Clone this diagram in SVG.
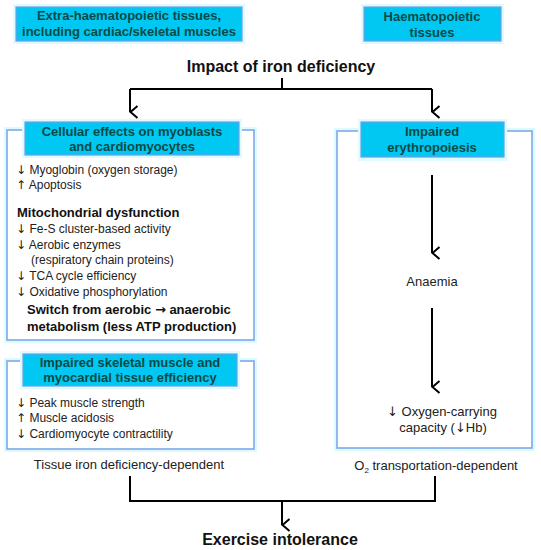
<svg xmlns="http://www.w3.org/2000/svg" width="541" height="550" viewBox="0 0 541 550">
<defs>
<marker id="ah" viewBox="0 0 14 12" refX="7" refY="11" markerWidth="14" markerHeight="12" markerUnits="userSpaceOnUse" orient="auto-start-reverse">
<path d="M1,3.5 L7,10.5 L13,3.5" fill="none" stroke="#000" stroke-width="2"/>
</marker>
<style>
text{font-family:"Liberation Sans",Arial,"DejaVu Sans",sans-serif;}
.ar{font-family:"DejaVu Sans",sans-serif;}
.halo{fill:none;stroke:#DDFAFF;stroke-width:6;}
.panel{fill:#fff;stroke:#7FA8E8;stroke-width:1.6;}
.hhalo{fill:#DFFBFF;stroke:none;}
.hbox{fill:#00C8F2;stroke:#6F9FE8;stroke-width:1.2;}
.ht{font-size:13px;font-weight:bold;fill:#0A4A45;text-anchor:middle;}
.t{font-size:12px;fill:#222;}
.m{font-size:13px;fill:#222;}
.b{font-size:13px;font-weight:bold;fill:#111;}
.big{font-size:16px;font-weight:bold;fill:#111;text-anchor:middle;}
.c{text-anchor:middle;}
.ln{fill:none;stroke:#000;stroke-width:2;}
</style>
</defs>
<rect width="541" height="550" fill="#fff"/>

<g id="hdr-extra">
<rect class="hhalo" x="13" y="4" width="232" height="40"/>
<rect class="hbox" x="16" y="7" width="226" height="34"/>
<text class="ht" x="129" y="20">Extra-haematopoietic tissues,</text>
<text class="ht" x="129" y="36">including cardiac/skeletal muscles</text>
</g>

<g id="hdr-haem">
<rect class="hhalo" x="361" y="4" width="143" height="40"/>
<rect class="hbox" x="364" y="7" width="137" height="34"/>
<text class="ht" x="432" y="21">Haematopoietic</text>
<text class="ht" x="432" y="37">tissues</text>
</g>

<g id="impact">
<text class="big" x="281" y="72">Impact of iron deficiency</text>
</g>

<g id="panel-cellular">
<rect class="halo" x="7" y="130" width="247" height="210"/>
<rect class="panel" x="7" y="130" width="247" height="210"/>
<rect class="hhalo" x="22" y="119" width="220" height="39"/>
<rect class="hbox" x="25" y="122" width="214" height="33"/>
<text class="ht" x="132" y="136">Cellular effects on myoblasts</text>
<text class="ht" x="132" y="151">and cardiomyocytes</text>
<text class="t" x="16" y="174"><tspan class="ar">↓</tspan> Myoglobin  (oxygen storage)</text>
<text class="t" x="16" y="189"><tspan class="ar">↑</tspan> Apoptosis</text>
<text class="b" x="17" y="217">Mitochondrial  dysfunction</text>
<text class="t" x="16" y="233"><tspan class="ar">↓</tspan> Fe-S cluster-based activity</text>
<text class="t" x="16" y="249"><tspan class="ar">↓</tspan> Aerobic enzymes</text>
<text class="t" x="31" y="264">(respiratory chain proteins)</text>
<text class="t" x="16" y="280"><tspan class="ar">↓</tspan> TCA cycle efficiency</text>
<text class="t" x="16" y="296"><tspan class="ar">↓</tspan> Oxidative phosphorylation</text>
<text class="b" x="27" y="314">Switch from aerobic <tspan class="ar">→</tspan> anaerobic</text>
<text class="b" x="27" y="331">metabolism  (less ATP production)</text>
</g>

<g id="panel-efficiency">
<rect class="halo" x="7" y="361" width="247" height="88"/>
<rect class="panel" x="7" y="361" width="247" height="88"/>
<rect class="hhalo" x="20" y="351" width="220" height="38"/>
<rect class="hbox" x="23" y="354" width="214" height="32"/>
<text class="ht" x="130" y="367">Impaired skeletal muscle and</text>
<text class="ht" x="130" y="382">myocardial tissue efficiency</text>
<text class="t" x="16" y="407"><tspan class="ar">↓</tspan> Peak muscle strength</text>
<text class="t" x="16" y="422"><tspan class="ar">↑</tspan> Muscle acidosis</text>
<text class="t" x="16" y="438"><tspan class="ar">↓</tspan> Cardiomyocyte contractility</text>
</g>

<g id="label-tissue">
<text class="m c" x="129" y="469">Tissue iron deficiency-dependent</text>
</g>

<g id="panel-erythro">
<rect class="halo" x="337" y="131" width="195" height="317"/>
<rect class="panel" x="337" y="131" width="195" height="317"/>
<rect class="hhalo" x="358" y="119" width="149" height="42"/>
<rect class="hbox" x="361" y="122" width="143" height="35"/>
<text class="ht" x="432" y="136">Impaired</text>
<text class="ht" x="432" y="152">erythropoiesis</text>
<text class="m c" x="432" y="286">Anaemia</text>
<text class="m c" x="442" y="416"><tspan class="ar">↓</tspan> Oxygen-carrying</text>
<text class="m c" x="443" y="432">capacity (<tspan class="ar">↓</tspan>Hb)</text>
</g>

<g id="label-o2">
<text class="m c" x="436" y="470">O<tspan font-size="8" dy="3">2</tspan><tspan dy="-3"> transportation-dependent</tspan></text>
</g>

<g id="exercise">
<text class="big" x="280" y="545">Exercise intolerance</text>
</g>

<g id="connectors">
<path class="ln" d="M282,78 V89"/>
<path class="ln" d="M130,89 H432"/>
<path class="ln" d="M130,89 V112" marker-end="url(#ah)"/>
<path class="ln" d="M432,89 V112" marker-end="url(#ah)"/>
<path class="ln" d="M432,175 V253" marker-end="url(#ah)"/>
<path class="ln" d="M432,308 V387" marker-end="url(#ah)"/>
<path class="ln" d="M130,476 V501 H435 V476"/>
<path class="ln" d="M282,501 V525" marker-end="url(#ah)"/>
</g>
</svg>
